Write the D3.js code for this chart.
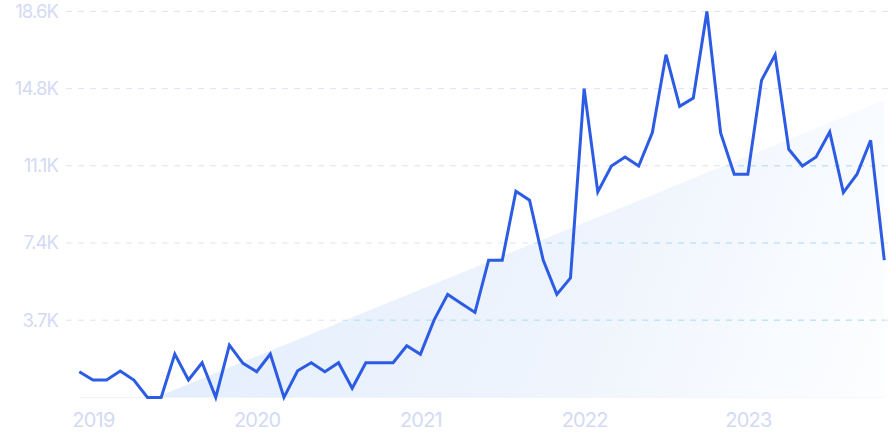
<!DOCTYPE html>
<html>
<head>
<meta charset="utf-8">
<script src="https://cdn.jsdelivr.net/npm/d3@7"></script>
<style>
  html, body { margin: 0; padding: 0; background: #ffffff; }
  svg { display: block; }
</style>
</head>
<body>
<svg id="chart" width="888" height="443"></svg>
<script>
// ---- Data ----
const months = [
  "2018-12","2019-01","2019-02","2019-03","2019-04","2019-05","2019-06","2019-07","2019-08","2019-09","2019-10","2019-11",
  "2019-12","2020-01","2020-02","2020-03","2020-04","2020-05","2020-06","2020-07","2020-08","2020-09","2020-10","2020-11",
  "2020-12","2021-01","2021-02","2021-03","2021-04","2021-05","2021-06","2021-07","2021-08","2021-09","2021-10","2021-11",
  "2021-12","2022-01","2022-02","2022-03","2022-04","2022-05","2022-06","2022-07","2022-08","2022-09","2022-10","2022-11",
  "2022-12","2023-01","2023-02","2023-03","2023-04","2023-05","2023-06","2023-07","2023-08","2023-09","2023-10","2023-11"
];
const searches = [
  1234, 835, 835, 1267, 835, 0, 0, 2083, 835, 1666, 0, 2515,
  1637, 1234, 2083, 0, 1282, 1666, 1234, 1666, 437, 1666, 1666, 1666,
  2482, 2067, 3715, 4949, 4517, 4085, 6595, 6595, 9907, 9475, 6595, 4949,
  5746, 14837, 9874, 11122, 11554, 11122, 12725, 16469, 13987, 14386, 18550, 12725,
  10723, 10723, 15235, 16469, 11923, 11122, 11554, 12754, 9845, 10723, 12355, 6595
];
// Trend line endpoints (first and last month)
const trendMonths = ["2018-12", "2023-11"];
const trendValues = [-1500, 14275];

const yTickValues = [3710, 7420, 11130, 14840, 18550];
const yTickLabels = ["3.7K", "7.4K", "11.1K", "14.8K", "18.6K"];
const xTickMonths = ["2019-01", "2020-01", "2021-01", "2022-01", "2023-01"];
const xTickLabels = ["2019", "2020", "2021", "2022", "2023"];

// ---- Layout ----
const svg = d3.select("#chart");
const x = d3.scalePoint().domain(months).range([79.3, 884.3]);
const y = d3.scaleLinear().domain([0, 18550]).range([397.4, 11.4]);
const gridX0 = 66, gridX1 = 888;

const defs = svg.append("defs");
const grad = defs.append("linearGradient")
  .attr("id", "areaGrad")
  .attr("gradientUnits", "userSpaceOnUse")
  .attr("x1", 150).attr("y1", 150).attr("x2", 884).attr("y2", 430);
grad.append("stop").attr("offset", "0").attr("stop-color", "#e2edfc");
grad.append("stop").attr("offset", "0.55").attr("stop-color", "#eef4fd");
grad.append("stop").attr("offset", "1").attr("stop-color", "#fdfeff");

// clip to the region above baseline
defs.append("clipPath").attr("id", "plotClip")
  .append("rect").attr("x", 0).attr("y", 0).attr("width", 888).attr("height", y(0));

const trendData = trendMonths.map((m, i) => ({ m, v: trendValues[i] }));
const trendArea = d3.area()
  .x(d => x(d.m))
  .y0(y(0))
  .y1(d => y(d.v));

// clip path = the trend area shape (for tinted grid lines)
defs.append("clipPath").attr("id", "areaClip")
  .append("path").attr("d", trendArea(trendData));

// faint baseline
svg.append("line")
  .attr("x1", x(months[0])).attr("x2", x(months[months.length - 1]))
  .attr("y1", y(0)).attr("y2", y(0))
  .attr("stroke", "#f1f4fb").attr("stroke-width", 1);

// trend area
svg.append("g").attr("clip-path", "url(#plotClip)")
  .append("path")
  .attr("d", trendArea(trendData))
  .attr("fill", "url(#areaGrad)");

// grid lines
const gridG = svg.append("g");
gridG.selectAll("line.grid")
  .data(yTickValues)
  .join("line")
  .attr("class", "grid")
  .attr("x1", gridX0).attr("x2", gridX1)
  .attr("y1", d => y(d)).attr("y2", d => y(d))
  .attr("stroke", "#dce3f6")
  .attr("stroke-width", 1)
  .attr("stroke-dasharray", "6,6");

const gridTint = svg.append("g").attr("clip-path", "url(#areaClip)");
gridTint.selectAll("line")
  .data(yTickValues)
  .join("line")
  .attr("x1", gridX0).attr("x2", gridX1)
  .attr("y1", d => y(d)).attr("y2", d => y(d))
  .attr("stroke", "#b4e2fc")
  .attr("stroke-width", 1)
  .attr("stroke-dasharray", "6,6");

// y axis labels
const yAxis = d3.axisLeft(y)
  .tickValues(yTickValues)
  .tickFormat((d, i) => yTickLabels[i])
  .tickSize(0)
  .tickPadding(0);
const yG = svg.append("g").attr("transform", "translate(58,0)").call(yAxis);
yG.select(".domain").remove();
yG.selectAll("text")
  .attr("fill", "#d3daf4")
  .attr("font-family", "Inter, 'Noto Sans', sans-serif")
  .attr("font-size", 18.5)
  .attr("letter-spacing", "-0.9px");

// x axis labels
const xAxis = d3.axisBottom(x)
  .tickValues(xTickMonths)
  .tickFormat((d, i) => xTickLabels[i])
  .tickSize(0)
  .tickPadding(0);
const xG = svg.append("g").attr("transform", "translate(0,413)").call(xAxis);
xG.select(".domain").remove();
xG.selectAll("text")
  .attr("fill", "#d3daf4")
  .attr("font-family", "Inter, 'Noto Sans', sans-serif")
  .attr("font-size", 20)
  .attr("letter-spacing", "-0.8px");

// main line
const line = d3.line()
  .x((d, i) => x(months[i]))
  .y(d => y(d));
svg.append("path")
  .datum(searches)
  .attr("d", line)
  .attr("fill", "none")
  .attr("stroke", "#2d5ce4")
  .attr("stroke-width", 3)
  .attr("stroke-linejoin", "miter")
  .attr("stroke-linecap", "butt");
</script>
</body>
</html>
